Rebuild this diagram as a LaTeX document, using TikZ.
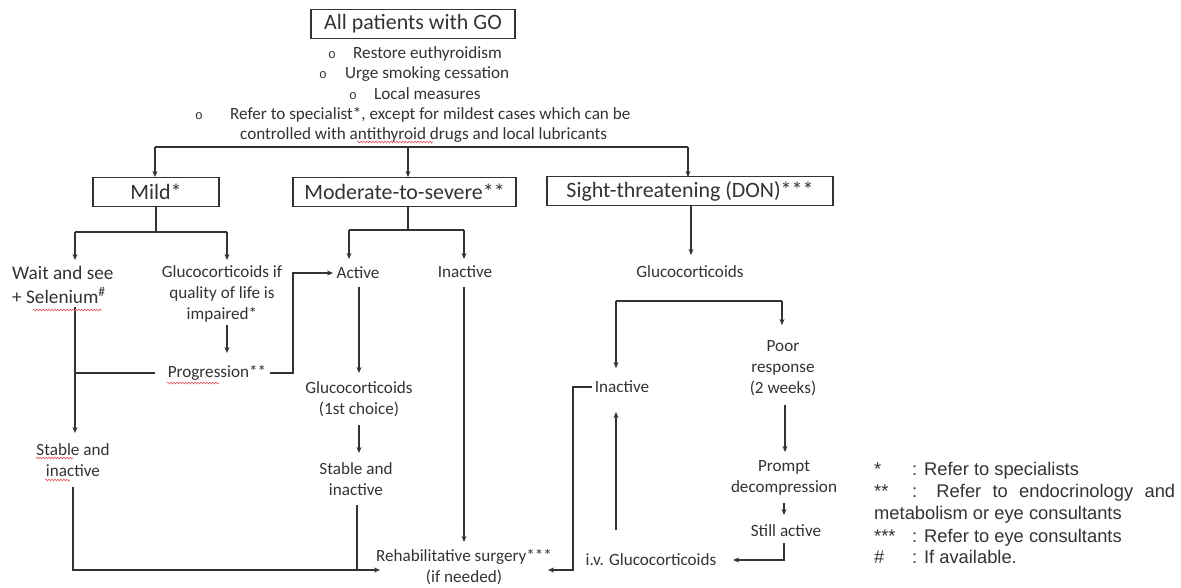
\documentclass[tikz,border=0pt]{standalone}
\usepackage{fontspec}
\setmainfont{Carlito}
\newfontfamily\arialf{Liberation Sans}
\newfontfamily\monof{Liberation Mono}
\usetikzlibrary{arrows.meta,decorations.pathmorphing}
\definecolor{txt}{HTML}{333333}
\definecolor{ln}{HTML}{333333}
\definecolor{spellred}{HTML}{E8585A}
\begin{document}
\begin{tikzpicture}[x=1bp,y=-1bp,
  tbox/.style={draw=ln,line width=1.3bp,minimum height=29bp,inner sep=0pt,
    font=\fontsize{22}{26}\selectfont,text=txt},
  lbl/.style={align=center,inner sep=0pt,font=\fontsize{17.2}{21}\selectfont,text=txt},
  bul/.style={anchor=base west,inner sep=0pt,font=\fontsize{17.2}{21}\selectfont,text=txt},
  leg/.style={anchor=base west,inner sep=0pt,font=\arialf\fontsize{18.4}{22}\selectfont,text=txt},
  conn/.style={draw=ln,line width=1.3bp},
  arr/.style={conn,-{Stealth[length=6bp,width=5bp]}},
  spell/.style={draw=spellred,line width=0.6bp,decorate,
    decoration={snake,segment length=3bp,amplitude=0.9bp}}
]
\useasboundingbox[fill=white] (0,0) rectangle (1181,588);

% ---------- nodes ----------
\node[tbox,minimum width=204bp] (all) at (413,24) {All patients with GO};
\newcommand{\bulo}[1]{\makebox[#1][l]{\monof\fontsize{13}{13}\selectfont o}}
\node[bul] (b1) at (328,59) {\bulo{25bp}Restore euthyroidism};
\node[bul] (b2) at (319,79) {\bulo{26bp}Urge smoking cessation};
\node[bul] (b3) at (349,100) {\bulo{25bp}Local measures};
\node[bul] (b4) at (195,120) {\bulo{35bp}Refer to specialist*, except for mildest cases which can be};
\node[bul] (b5) at (240,140) {controlled with antithyroid drugs and local lubricants};

\node[tbox,minimum width=126bp] (mild) at (156,192) {Mild*};
\node[tbox,minimum width=223bp] (mod) at (404.5,192) {Moderate-to-severe**};
\node[tbox,minimum width=286bp] (sight) at (690,191) {Sight-threatening (DON)***};

\node[lbl,align=left,anchor=west,font=\fontsize{19.3}{24}\selectfont] (wait) at (12,285) {Wait and see\\+ Selenium\textsuperscript{\#}};
\node[lbl] (gcif) at (222,294) {Glucocorticoids if\\quality of life is\\impaired*};
\node[lbl] (prog) at (217,373) {Progression**};
\node[lbl] (st1) at (73,460.5) {Stable and\\inactive};

\node[lbl] (active) at (358,273) {Active};
\node[lbl] (inact1) at (465,272) {Inactive};
\node[lbl] (gc1) at (359,399.5) {Glucocorticoids\\(1st choice)};
\node[lbl] (st2) at (356,479.5) {Stable and\\inactive};
\node[lbl] (rehab) at (464,567.5) {Rehabilitative surgery***\\(if needed)};

\node[lbl] (gc3) at (690,272) {Glucocorticoids};
\node[lbl] (inact3) at (622,387) {Inactive};
\node[lbl] (poor) at (783,368.5) {Poor\\response\\(2 weeks)};
\node[lbl] (prompt) at (784,477.5) {Prompt\\decompression};
\node[lbl] (still) at (786,531) {Still active};
\node[lbl] (ivgc) at (651,560) {i.v. Glucocorticoids};

% legend
\node[leg] (k1) at (874,475) {*};
\node[leg] (k1t) at (912,475) {: Refer to specialists};
\node[leg] (k2) at (874,497) {**};
\node[leg] (k2t) at (912,497) {\makebox[263bp][s]{: Refer to endocrinology and}};
\node[leg] (k2u) at (874,519) {metabolism or eye consultants};
\node[leg] (k3) at (874,542) {***};
\node[leg] (k3t) at (912,542) {: Refer to eye consultants};
\node[leg] (k4) at (874,563) {\#};
\node[leg] (k4t) at (912,563) {: If available.};

% ---------- connector points ----------
\coordinate (T1) at (155,147); \coordinate (T2) at (408,147); \coordinate (T3) at (688,147);
\coordinate (MildTop) at (155,177); \coordinate (ModTop) at (408,177); \coordinate (SightTop) at (688,177);
\coordinate (MS) at (156,207); \coordinate (MJ) at (156,232);
\coordinate (ML) at (75,232); \coordinate (MR) at (227,232);
\coordinate (WaitTop) at (75,260); \coordinate (GcifTop) at (227,260);
\coordinate (WaitBot) at (75,307); \coordinate (St1Top) at (75,433);
\coordinate (ProgL) at (155,373); \coordinate (ProgLJ) at (75,373);
\coordinate (GcifBot) at (227,325); \coordinate (ProgTop) at (227,353);
\coordinate (ProgR) at (270,373); \coordinate (PK1) at (293,373); \coordinate (PK2) at (293,273);
\coordinate (ActW) at (333,273);
\coordinate (DS) at (408,207); \coordinate (D0) at (408,230);
\coordinate (DL) at (349,230); \coordinate (DR) at (464,230);
\coordinate (ActTop) at (349,259); \coordinate (InaTop) at (464,259);
\coordinate (ActBot) at (359,287); \coordinate (Gc1Top) at (359,373);
\coordinate (Gc1Bot) at (359,425); \coordinate (St2Top) at (359,453);
\coordinate (St2Bot) at (357,505); \coordinate (St2J) at (357,570);
\coordinate (InaBot) at (464,287); \coordinate (RehabTop) at (464,542);
\coordinate (St1Bot) at (73,487); \coordinate (LB) at (73,570); \coordinate (RB) at (380,570);
\coordinate (SS) at (691,205); \coordinate (Gc3Top) at (691,255);
\coordinate (SL) at (616,301); \coordinate (SR) at (782,301);
\coordinate (Ina3Top) at (616,368); \coordinate (PoorTop) at (782,325);
\coordinate (PoorBot) at (785,405); \coordinate (PromptTop) at (785,452);
\coordinate (PromptBot) at (784,503); \coordinate (StillTop) at (784,515);
\coordinate (StillBot) at (784,543); \coordinate (SC) at (784,560); \coordinate (IvE) at (733,560);
\coordinate (IvTop) at (616,530); \coordinate (Ina3Bot) at (616,412);
\coordinate (Ina3W) at (592,387); \coordinate (RC1) at (573,387); \coordinate (RC2) at (573,570);
\coordinate (RR) at (548,570);

% ---------- connectors ----------
\draw[conn] (T1) -- (T3);
\draw[arr] (T1) -- (MildTop);
\draw[arr] (T2) -- (ModTop);
\draw[arr] (T3) -- (SightTop);

\draw[conn] (MS) -- (MJ);
\draw[conn] (ML) -- (MR);
\draw[arr] (ML) -- (WaitTop);
\draw[arr] (MR) -- (GcifTop);
\draw[arr] (WaitBot) -- (St1Top);
\draw[conn] (ProgL) -- (ProgLJ);
\draw[arr] (GcifBot) -- (ProgTop);
\draw[arr] (ProgR) -- (PK1) -- (PK2) -- (ActW);

\draw[conn] (DS) -- (D0);
\draw[conn] (DL) -- (DR);
\draw[arr] (DL) -- (ActTop);
\draw[arr] (DR) -- (InaTop);
\draw[arr] (ActBot) -- (Gc1Top);
\draw[arr] (Gc1Bot) -- (St2Top);
\draw[conn] (St2Bot) -- (St2J);
\draw[arr] (InaBot) -- (RehabTop);
\draw[arr] (St1Bot) -- (LB) -- (RB);

\draw[arr] (SS) -- (Gc3Top);
\draw[conn] (SL) -- (SR);
\draw[arr] (SL) -- (Ina3Top);
\draw[arr] (SR) -- (PoorTop);
\draw[arr] (PoorBot) -- (PromptTop);
\draw[arr] (PromptBot) -- (StillTop);
\draw[arr] (StillBot) -- (SC) -- (IvE);
\draw[arr] (IvTop) -- (Ina3Bot);
\draw[arr] (Ina3W) -- (RC1) -- (RC2) -- (RR);

% ---------- spell-check underlines ----------
\draw[spell] (357,142) -- (433,142);
\draw[spell] (33,310) -- (102,310);
\draw[spell] (167,383) -- (219,383);
\draw[spell] (36,458) -- (73,458);
\draw[spell] (45,480) -- (70,480);
\end{tikzpicture}
\end{document}
